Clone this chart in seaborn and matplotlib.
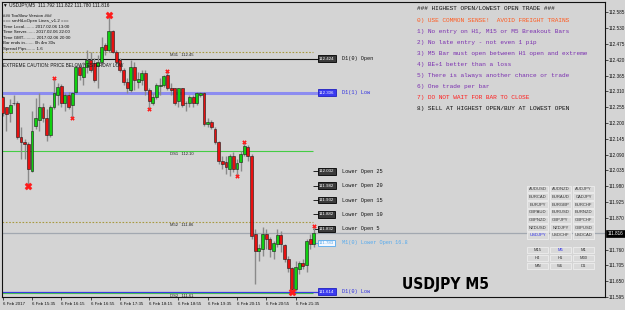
import numpy as np
import pandas as pd
import matplotlib
matplotlib.use("Agg")
import matplotlib.pyplot as plt
import matplotlib.transforms as mtransforms
from matplotlib.patches import Rectangle
from matplotlib import font_manager
import seaborn as sns

# ---------------- data ----------------
opens = [112.292,112.254,112.236,112.268,112.271,112.153,112.133,112.126,112.032,112.188,
         112.212,112.257,112.219,112.160,112.254,112.299,112.330,112.271,112.299,112.264,
         112.309,112.396,112.361,112.396,112.420,112.410,112.399,112.413,112.472,112.455,
         112.520,112.448,112.420,112.385,112.344,112.316,112.396,112.344,112.351,112.375,
         112.316,112.271,112.292,112.330,112.333,112.368,112.323,112.320,112.275,112.320,
         112.271,112.271,112.292,112.271,112.299,112.306,112.195,112.205,112.178,112.133,
         112.067,112.063,112.039,112.084,112.039,112.063,112.091,112.115,112.084,111.814,
         111.755,111.762,111.814,111.797,111.755,111.780,111.811,111.776,111.728,111.696,
         111.624,111.693,111.714,111.707,111.797,111.780]
highs = [112.295,112.257,112.282,112.299,112.275,112.185,112.143,112.133,112.240,112.288,
         112.306,112.271,112.247,112.261,112.358,112.340,112.337,112.306,112.309,112.309,
         112.403,112.403,112.413,112.455,112.448,112.427,112.437,112.500,112.479,112.576,
         112.524,112.455,112.427,112.392,112.358,112.420,112.413,112.378,112.385,112.385,
         112.323,112.306,112.340,112.358,112.368,112.382,112.340,112.323,112.323,112.323,
         112.275,112.299,112.299,112.309,112.309,112.309,112.219,112.212,112.185,112.139,
         112.084,112.084,112.091,112.098,112.074,112.101,112.133,112.122,112.091,111.831,
         111.780,111.838,111.831,111.804,111.790,111.831,111.825,111.780,111.738,111.700,
         111.721,111.721,111.728,111.797,111.814,111.842]
lows = [112.223,112.171,112.205,112.261,112.143,112.074,112.074,111.980,112.029,112.178,
        112.171,112.202,112.136,112.153,112.247,112.264,112.254,112.240,112.247,112.216,
        112.306,112.351,112.333,112.375,112.378,112.344,112.323,112.403,112.437,112.448,
        112.444,112.403,112.378,112.333,112.306,112.309,112.316,112.323,112.333,112.299,
        112.247,112.264,112.282,112.299,112.326,112.316,112.299,112.264,112.257,112.257,
        112.240,112.257,112.254,112.264,112.292,112.188,112.185,112.178,112.126,112.056,
        112.039,112.022,112.015,112.029,112.015,112.032,112.084,112.067,111.797,111.641,
        111.721,111.738,111.762,111.735,111.728,111.769,111.752,111.717,111.683,111.613,
        111.617,111.676,111.693,111.683,111.762,111.769]
closes = [112.236,112.233,112.264,112.271,112.150,112.133,112.126,112.039,112.171,112.219,
          112.257,112.219,112.160,112.254,112.306,112.326,112.271,112.299,112.257,112.306,
          112.396,112.368,112.396,112.420,112.385,112.351,112.413,112.465,112.455,112.520,
          112.448,112.413,112.385,112.344,112.320,112.396,112.351,112.354,112.375,112.316,
          112.275,112.292,112.333,112.331,112.365,112.323,112.316,112.271,112.320,112.264,
          112.268,112.292,112.271,112.306,112.306,112.195,112.205,112.185,112.133,112.067,
          112.056,112.046,112.084,112.039,112.060,112.091,112.119,112.084,111.807,111.755,
          111.766,111.814,111.797,111.762,111.783,111.811,111.780,111.728,111.696,111.624,
          111.700,111.714,111.703,111.790,111.780,111.816]

big_marks = [(7, "low"), (29, "high"), (79, "low")]
small_marks = [(14, "high"), (19, "low"), (40, "low"), (45, "high"),
               (64, "low"), (66, "high"), (85, "high")]

time_label_bars = [0, 8, 16, 24, 32, 40, 48, 56, 64, 72, 80]
time_labels = ["6 Feb 2017", "6 Feb 15:35", "6 Feb 16:15", "6 Feb 16:55", "6 Feb 17:35",
               "6 Feb 18:15", "6 Feb 18:55", "6 Feb 19:35", "6 Feb 20:15", "6 Feb 20:55",
               "6 Feb 21:35"]

price_ticks = [112.585, 112.530, 112.475, 112.420, 112.365, 112.310, 112.255, 112.200,
               112.145, 112.090, 112.035, 111.980, 111.925, 111.870, 111.760, 111.705,
               111.650, 111.595]
price_tick_labels = ["112.585", "112.530", "112.475", "112.420", "112.365", "112.310",
                     "112.255", "112.200", "112.145", "112.090", "112.035", "111.980",
                     "111.925", "111.870", "111.760", "111.705", "111.650", "111.595"]
current_price = 111.816
header = "\u25BC USDJPY,M5  111.792 111.822 111.780 111.816"

pivot_names = ["M31", "DS1", "M52", "DS2"]
pivot_values = [112.447, 112.103, 111.856, 111.610]
pivot_texts = ["112.45", "112.10", "111.86", "111.61"]

d1_open = 112.424
d1_prev_low = 112.306
d1_low = 111.614
lower_open_names = ["Lower Open 25", "Lower Open 20", "Lower Open 15", "Lower Open 10", "Lower Open 5"]
lower_open_values = [112.032, 111.982, 111.932, 111.882, 111.832]
m1_lower_open = 111.783
m1_lower_open_text = "M1(0) Lower Open 16.8"

info_lines = ["### TooSlow Version ###",
              "=== smHiLoOpen Lines_v1.2 ===",
              "Time Local........ 2017.02.06 13:00",
              "Time Server....... 2017.02.06 22:00",
              "Time GMT.......... 2017.02.06 20:00",
              "Bar ends in....... 0h 4m 30s",
              "Spread Pips....... 1.6"]
caution_text = "EXTREME CAUTION: PRICE BELOW YESTERDAY LOW"

rules = ["### HIGHEST OPEN/LOWEST OPEN TRADE ###",
         "0) USE COMMON SENSE!  AVOID FREIGHT TRAINS",
         "1) No entry on H1, M15 or M5 Breakout Bars",
         "2) No late entry - not even 1 pip",
         "3) M5 Bar must open between H1 open and extreme",
         "4) BE+1 better than a loss",
         "5) There is always another chance or trade",
         "6) One trade per bar",
         "7) DO NOT WAIT FOR BAR TO CLOSE",
         "8) SELL AT HIGHEST OPEN/BUY AT LOWEST OPEN"]
rule_colors = ["#111111", "#ff5a1f", "#7a2fb0", "#7a2fb0", "#7a2fb0", "#7a2fb0",
               "#7a2fb0", "#7a2fb0", "#ff1f1f", "#111111"]

symbols = [["AUDUSD", "AUDNZD", "AUDJPY"],
           ["EURCAD", "EURAUD", "CADJPY"],
           ["EURJPY", "EURGBP", "EURCHF"],
           ["GBPAUD", "EURUSD", "EURNZD"],
           ["GBPNZD", "GBPJPY", "GBPCHF"],
           ["NZDUSD", "NZDJPY", "GBPUSD"],
           ["USDJPY", "USDCHF", "USDCAD"]]
timeframes = [["M15", "M5", "M1"], ["H4", "H1", "M30"], ["MN", "W1", "D1"]]
active_symbol = "USDJPY"
active_tf = "M5"
big_title = "USDJPY M5"

# ---------------- style ----------------
BG = "#d4d4d4"
sns.set_theme(style="white", rc={"axes.facecolor": BG, "figure.facecolor": BG})
plt.rcParams["font.family"] = ["Liberation Sans", "DejaVu Sans"]
MONO = ["Liberation Mono", "DejaVu Sans Mono"]

# condensed heavy font for the big title, if one is installed
title_fp = None
avail = {f.name for f in font_manager.fontManager.ttflist}
if "Liberation Sans Narrow" in avail:
    title_fp = font_manager.FontProperties(family="Liberation Sans Narrow", weight="bold", size=12)
else:
    cond = [f for f in font_manager.fontManager.ttflist
            if "condensed" in f.fname.lower() and "bold" in f.fname.lower()
            and "oblique" not in f.fname.lower() and "sans" in f.fname.lower()
            and "mono" not in f.fname.lower()]
    if cond:
        title_fp = font_manager.FontProperties(fname=cond[0].fname, size=11.2)
if title_fp is None:
    title_fp = font_manager.FontProperties(family="Liberation Sans", weight="bold", size=10.5)

W, H = 625, 310
fig = plt.figure(figsize=(W / 100, H / 100), dpi=100)
fx = lambda px: px / W
fy = lambda py: 1 - py / H

ax = fig.add_axes([fx(2), fy(297), fx(605) - fx(2), fy(2) - fy(297)])
ax.set_facecolor(BG)
XL, XR = -0.2, -0.2 + 603 / 3.66
ax.set_xlim(XL, XR)
ax.set_ylim(111.5995, 112.6207)
bx = lambda px: (px - 2) / 3.66 - 0.2  # pixel column -> bar coordinate

df = pd.DataFrame({"bar": np.arange(len(opens)), "open": opens, "high": highs,
                   "low": lows, "close": closes})
bull = df["close"] >= df["open"]

# horizontal levels
ax.hlines(pivot_values[0], XL, bx(313), colors="#a89a40", lw=0.8, linestyles=(0, (1.5, 1.5)), zorder=1)
ax.hlines(pivot_values[2], XL, bx(313), colors="#a89a40", lw=0.8, linestyles=(0, (1.5, 1.5)), zorder=1)
ax.hlines(pivot_values[1], XL, bx(313), colors="#44cc44", lw=0.8, zorder=1)
ax.hlines(pivot_values[3], XL, bx(313), colors="#44cc44", lw=0.8, zorder=1)
ax.hlines(d1_open, XL, bx(318), colors="#111111", lw=0.8, zorder=1)
ax.hlines(d1_prev_low, XL, bx(318), colors="#8c8cf0", lw=2.2, zorder=1)
ax.hlines(d1_low, XL, bx(318), colors="#3a3ae0", lw=0.9, zorder=1)
ax.hlines(current_price, XL, XR, colors="#a2a8b0", lw=0.9, zorder=1)
for v in lower_open_values:
    ax.hlines(v, bx(313), bx(318), colors="#222222", lw=0.7, zorder=1)
ax.hlines(m1_lower_open, bx(313), bx(318), colors="#55aaee", lw=0.7, zorder=1)

for name, v, t in zip(pivot_names, pivot_values, pivot_texts):
    ax.text(bx(170), v - 0.004, f"{name}   {t}", fontsize=3.0, color="#222222",
            va="top", ha="left", zorder=4)

# candles
ax.vlines(df["bar"], df["low"], df["high"], colors="#8a8a8a", lw=1.0, zorder=2)
body = (df["close"] - df["open"]).where(lambda s: s.abs() > 0.0015, 0.0015)
ax.bar(df["bar"][bull], body[bull], bottom=df["open"][bull], width=0.8,
       color="#10d010", edgecolor="#1a1a1a", linewidth=0.4, zorder=3)
ax.bar(df["bar"][~bull], body[~bull], bottom=df["open"][~bull], width=0.8,
       color="#e81010", edgecolor="#1a1a1a", linewidth=0.4, zorder=3)

# fractal-like markers
def mark_df(lst):
    return pd.DataFrame({"bar": [b for b, _ in lst],
                         "price": [highs[b] if k == "high" else lows[b] for b, k in lst]})
sns.scatterplot(data=mark_df(big_marks), x="bar", y="price", marker="X", s=26,
                color="#ff1a1a", edgecolor="#ff1a1a", linewidth=0.3, ax=ax, zorder=5)
sns.scatterplot(data=mark_df(small_marks), x="bar", y="price", marker="X", s=8,
                color="#ff1a1a", edgecolor="#ff1a1a", linewidth=0.2, ax=ax, zorder=5)

# price boxes and labels
def box(v, txt, fc, ec, tc):
    ax.text(bx(319), v, txt, fontsize=3.2, color=tc, va="center", ha="left", zorder=6,
            bbox=dict(boxstyle="square,pad=0.3", fc=fc, ec=ec, lw=0.6))

def lab(v, txt, c):
    ax.text(bx(342), v, txt, fontsize=3.8, family=MONO, color=c, va="center", ha="left", zorder=6)

box(d1_open, f"{d1_open:.3f}", "#3a3a3a", "#000000", "white")
lab(d1_open, "D1(0) Open", "#111111")
box(d1_prev_low, f"{d1_prev_low:.3f}", "#3a3af0", "#2020c0", "white")
lab(d1_prev_low, "D1(1) Low", "#3030e0")
for n, v in zip(lower_open_names, lower_open_values):
    box(v, f"{v:.3f}", "#3a3a3a", "#000000", "white")
    lab(v, n, "#111111")
box(m1_lower_open, f"{m1_lower_open:.3f}", "#f4f8ff", "#55aaee", "#55aaee")
lab(m1_lower_open, m1_lower_open_text, "#55aaee")
box(d1_low, f"{d1_low:.3f}", "#3a3af0", "#2020c0", "white")
lab(d1_low, "D1(0) Low", "#3030e0")

# axes formatting
ax.yaxis.tick_right()
ax.set_yticks(price_ticks)
ax.set_yticklabels(price_tick_labels)
ax.set_xticks(time_label_bars)
ax.set_xticklabels(time_labels)
ax.tick_params(axis="y", which="both", right=True, left=False, length=2.0, width=0.5,
               pad=1.0, labelsize=3.3, colors="#111111")
ax.tick_params(axis="x", which="both", bottom=True, length=2.0, width=0.5,
               pad=1.5, labelsize=3.2, colors="#111111")
for lbl in ax.get_xticklabels():
    lbl.set_ha("left")
ax.set_xlabel("")
ax.set_ylabel("")
for s in ax.spines.values():
    s.set_visible(True)
    s.set_color("#111111")
    s.set_linewidth(0.8)
trans = mtransforms.blended_transform_factory(ax.transAxes, ax.transData)
ax.text(1.004, current_price, f"{current_price:.3f}", transform=trans, fontsize=3.3,
        color="white", va="center", ha="left", zorder=7,
        bbox=dict(boxstyle="square,pad=0.3", fc="#000000", ec="#000000", lw=0.5))

# header and info block
fig.text(fx(3), fy(5), header, fontsize=3.4, va="center", ha="left", color="#111111")
for i, line in enumerate(info_lines):
    fig.text(fx(3), fy(15.7 + i * 5.55), line, fontsize=3.2, va="center", ha="left",
             color="#111111")
fig.text(fx(3), fy(65.7), caution_text, fontsize=3.3, va="center", ha="left", color="#111111")

# rules block
for i, (line, c) in enumerate(zip(rules, rule_colors)):
    fig.text(fx(417), fy(9 + i * 11.03), line, fontsize=4.4, family=MONO, color=c,
             va="center", ha="left")

# symbol / timeframe buttons
col_x = [527, 550, 573]
def button(px, pyc, txt, active):
    fig.add_artist(Rectangle((fx(px), fy(pyc + 3.3)), 21 / W, 6.6 / H,
                             transform=fig.transFigure, fc="#d9d9d9", ec="#f2f2f2", lw=0.5))
    fig.text(fx(px + 10.5), fy(pyc), txt, fontsize=3.0, ha="center", va="center",
             color="#2a2ae8" if active else "#333333")

for r, row in enumerate(symbols):
    for c, s in enumerate(row):
        button(col_x[c], 189 + r * 7.75, s, s == active_symbol)
for r, row in enumerate(timeframes):
    for c, s in enumerate(row):
        button(col_x[c], 250 + r * 7.9, s, s == active_tf)

fig.text(fx(445), fy(285), big_title, fontproperties=title_fp,
         ha="center", va="center", color="#000000")

fig.savefig("out.png", dpi=100, facecolor=BG)
